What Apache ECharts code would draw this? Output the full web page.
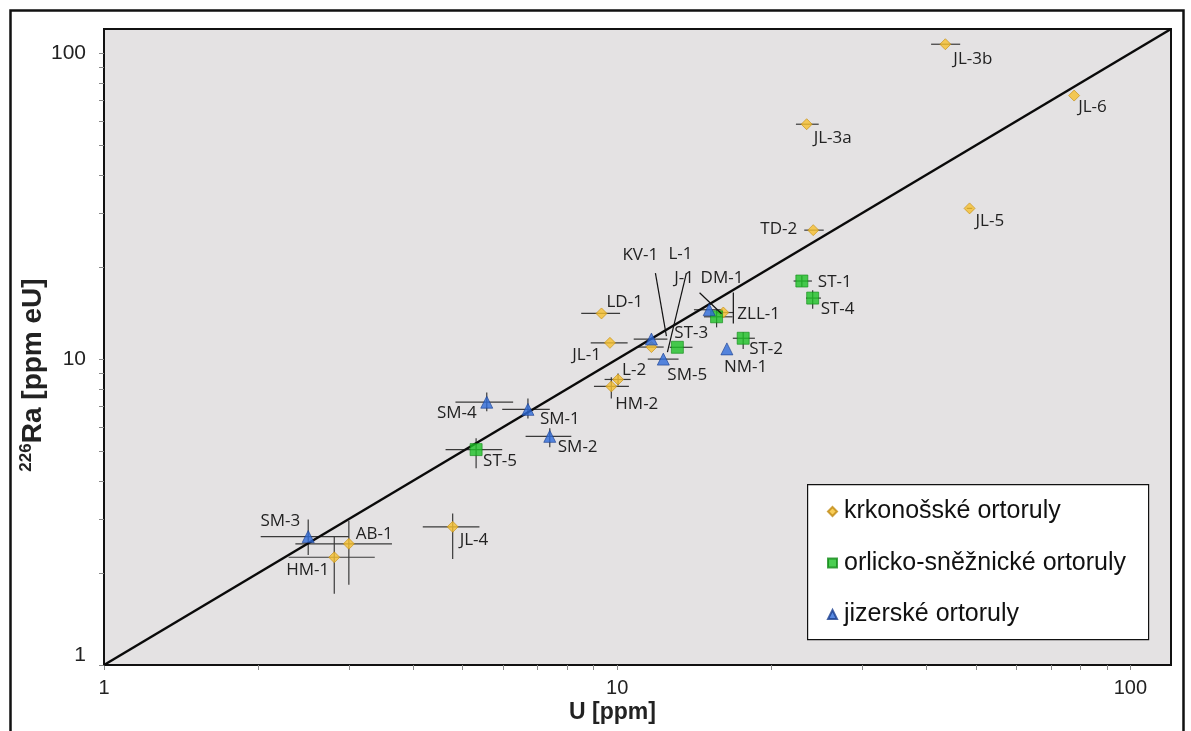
<!DOCTYPE html>
<html>
<head>
<meta charset="utf-8">
<title>U vs 226Ra</title>
<script src="https://cdn.jsdelivr.net/npm/echarts@6.0.0/dist/echarts.min.js"></script>
<style>
  html, body { margin: 0; padding: 0; background: #fff; }
  #chart { width: 1191px; height: 731px; }
</style>
</head>
<body>
<div id="chart"></div>
<script>
// --- data (U [ppm], 226Ra [ppm eU], error bar ends) ---
// krkonošské ortoruly
const krkNames = ['JL-3b', 'JL-6', 'JL-3a', 'JL-5', 'TD-2', 'LD-1', 'JL-1', 'L-1', 'ZLL-1', 'L-2', 'HM-2', 'AB-1', 'HM-1', 'JL-4'];
const krkU     = [43.6, 77.7, 23.4, 48.6, 24.1, 9.32, 9.68, 11.66, 16.1, 10.04, 9.74, 3.0, 2.81, 4.78];
const krkRa    = [107, 72.7, 58.6, 31.1, 26.4, 14.1, 11.3, 10.95, 14.2, 8.58, 8.14, 2.49, 2.25, 2.83];
const krkULo   = [40.9, null, 22.3, 48.0, 23.15, 8.51, 8.88, 10.92, 15.57, 9.45, 9.01, 2.36, 2.29, 4.18];
const krkUHi   = [46.6, null, 24.7, 49.2, 25.26, 10.13, 10.48, 12.32, 16.88, 10.62, 10.54, 3.64, 3.37, 5.39];
const krkRaLo  = [null, null, null, null, null, null, null, null, null, 8.20, 7.43, 1.83, 1.71, 2.22];
const krkRaHi  = [null, null, null, null, null, null, null, null, null, 8.97, 8.72, 2.96, 2.64, 3.13];

// orlicko-sněžnické ortoruly
const orlNames = ['ST-1', 'ST-4', 'DM-1', 'ST-3', 'ST-2', 'ST-5'];
const orlU     = [22.9, 24.04, 15.62, 13.1, 17.6, 5.31];
const orlRa    = [18.0, 15.83, 13.75, 10.93, 11.7, 5.06];
const orlULo   = [22.07, 23.33, 14.76, 12.66, 16.8, 4.63];
const orlUHi   = [23.96, 24.95, 16.78, 14.02, 18.55, 5.97];
const orlRaLo  = [17.23, 14.6, 12.7, null, 10.8, 4.40];
const orlRaHi  = [18.7, 16.8, 14.5, null, 12.23, 5.51];

// jizerské ortoruly
const jizNames = ['KV-1', 'J-1', 'SM-5', 'NM-1', 'SM-4', 'SM-1', 'SM-2', 'SM-3'];
const jizU     = [11.66, 15.11, 12.3, 16.36, 5.57, 6.70, 7.39, 2.50];
const jizRa    = [11.63, 14.5, 10.0, 10.8, 7.23, 6.85, 5.59, 2.63];
const jizULo   = [10.77, 14.11, 11.47, null, 4.84, 5.97, 6.63, 2.02];
const jizUHi   = [12.53, 16.05, 13.17, null, 6.27, 7.39, 8.14, 3.00];
const jizRaLo  = [null, null, null, null, 6.76, 6.40, 5.15, 2.29];
const jizRaHi  = [null, null, null, null, 7.78, 7.43, 5.94, 2.99];

const groupNames = ['krkonošské ortoruly', 'orlicko-sněžnické ortoruly', 'jizerské ortoruly'];
const refLine = [[1, 1], [120, 120]];
const axisMin = 1, axisMax = 120;
const tickValues = [1, 2, 3, 4, 5, 6, 7, 8, 9, 10, 20, 30, 40, 50, 60, 70, 80, 90, 100];
const labelValues = [1, 10, 100];

// label placement in pixels relative to the marker: [dx, dy, align]
const labelPos = {
  'JL-3b': [8, 15], 'JL-6': [4, 12], 'JL-3a': [7, 14], 'JL-5': [6, 13],
  'TD-2': [-16, -1, 'right'], 'LD-1': [5, -11], 'JL-1': [-9, 12, 'right'],
  'L-1': [17, -93], 'ZLL-1': [14, 2], 'L-2': [4, -9], 'HM-2': [4, 18],
  'AB-1': [7, -10], 'HM-1': [-5, 13, 'right'], 'JL-4': [7, 13],
  'ST-1': [16, 1], 'ST-4': [8, 11], 'DM-1': [-16, -39], 'ST-3': [-3, -14],
  'ST-2': [6, 11], 'ST-5': [7, 12],
  'KV-1': [-29, -84], 'J-1': [-35, -32], 'SM-5': [4, 16], 'NM-1': [-3, 18],
  'SM-4': [-10, 11, 'right'], 'SM-1': [12, 10], 'SM-2': [8, 11], 'SM-3': [-8, -15, 'right']
};
// leader lines, pixels relative to the marker: [x1, y1, x2, y2]
const leaders = {
  'KV-1': [4, -66, 15, -3],
  'L-1': [35, -74, 16, 5],
  'DM-1': [-17, -24, 5, -3],
  'ZLL-1': [10, -20, 10, 11]
};

const krkColor = '#F6C02E', orlColor = '#1DC226', jizColor = '#2E6CDA';
const axisFont = '"Liberation Sans", Arial, sans-serif';

function rows(u, ra, uLo, uHi, raLo, raHi) {
  return u.map((v, i) => [v, ra[i], uLo[i], uHi[i], raLo[i], raHi[i]]);
}
const allRows = [].concat(
  rows(krkU, krkRa, krkULo, krkUHi, krkRaLo, krkRaHi),
  rows(orlU, orlRa, orlULo, orlUHi, orlRaLo, orlRaHi),
  rows(jizU, jizRa, jizULo, jizUHi, jizRaLo, jizRaHi)
);
const allNames = [].concat(krkNames, orlNames, jizNames);

const chart = echarts.init(document.getElementById('chart'));

function errorBars(params, api) {
  const r = allRows[params.dataIndex];
  const p = api.coord([r[0], r[1]]);
  const style = { stroke: '#3a3a3a', lineWidth: 1.2 };
  const children = [];
  if (r[2] != null) {
    const a = api.coord([r[2], r[1]]), b = api.coord([r[3], r[1]]);
    children.push({ type: 'line', shape: { x1: a[0], y1: p[1], x2: b[0], y2: p[1] }, style: style });
  }
  if (r[4] != null) {
    const a = api.coord([r[0], r[4]]), b = api.coord([r[0], r[5]]);
    children.push({ type: 'line', shape: { x1: p[0], y1: a[1], x2: p[0], y2: b[1] }, style: style });
  }
  return { type: 'group', children: children };
}

function pointLabels(params, api) {
  const name = allNames[params.dataIndex];
  const p = api.coord([api.value(0), api.value(1)]);
  const o = labelPos[name] || [6, 12];
  const children = [{
    type: 'text',
    style: {
      text: name, x: p[0] + o[0], y: p[1] + o[1],
      align: o[2] || 'left', verticalAlign: 'middle',
      font: '17px "Open Sans", "Noto Sans", sans-serif', fill: '#222'
    }
  }];
  const l = leaders[name];
  if (l) {
    children.push({
      type: 'line',
      shape: { x1: p[0] + l[0], y1: p[1] + l[1], x2: p[0] + l[2], y2: p[1] + l[3] },
      style: { stroke: '#111', lineWidth: 1.2 }
    });
  }
  return { type: 'group', children: children };
}

const axisCommon = {
  type: 'log',
  logBase: 10,
  min: axisMin,
  max: axisMax,
  axisLine: { show: true, lineStyle: { color: '#111', width: 2 } },
  axisTick: { show: true, inside: false, length: 5, customValues: tickValues, lineStyle: { color: '#8a8a8a', width: 1 } },
  minorTick: { show: false },
  splitLine: { show: false },
  nameLocation: 'middle',
  nameMoveOverlap: false
};

chart.setOption({
  animation: false,
  backgroundColor: '#fff',
  grid: {
    left: 104, right: 20, top: 29, bottom: 66,
    show: true, backgroundColor: '#e4e2e3', borderColor: '#111', borderWidth: 2,
    containLabel: false, outerBoundsMode: 'none'
  },
  xAxis: Object.assign({}, axisCommon, {
    axisLabel: {
      customValues: labelValues, fontSize: 20, color: '#222', margin: 13, fontFamily: axisFont
    },
    name: 'U [ppm]',
    nameGap: 36,
    nameTextStyle: {
      fontSize: 23, fontWeight: 'bold', color: '#222',
      fontFamily: axisFont, padding: [0, 50, 0, 0]
    }
  }),
  yAxis: Object.assign({}, axisCommon, {
    axisLabel: {
      customValues: labelValues, fontSize: 21, color: '#222', margin: 18, fontFamily: axisFont,
      formatter: function (v) { return v === 1 ? '{lo|1}' : String(v); },
      rich: { lo: { fontSize: 21, color: '#222', padding: [0, 0, 20, 0], fontFamily: axisFont } }
    },
    name: '{sup|226}{b|Ra [ppm eU]}',
    nameGap: 56,
    nameRotate: 90,
    nameTextStyle: {
      padding: [0, 56, 0, 0],
      rich: {
        sup: { fontSize: 17, fontWeight: 'bold', color: '#222', verticalAlign: 'top', fontFamily: axisFont },
        b: { fontSize: 28, fontWeight: 'bold', color: '#222', lineHeight: 30, fontFamily: axisFont }
      }
    }
  }),
  legend: {
    data: groupNames,
    orient: 'vertical',
    left: 827,
    top: 499,
    padding: 0,
    itemWidth: 9,
    itemHeight: 9,
    itemGap: 26.5,
    selectedMode: false,
    textStyle: { fontSize: 25, color: '#111', fontFamily: axisFont, padding: [0, 0, 0, 2] },
    z: 6
  },
  graphic: [
    { type: 'rect', left: 807, top: 484, z: 5, shape: { width: 341, height: 155 }, style: { fill: '#fff', stroke: '#111', lineWidth: 1.2 } },
    { type: 'rect', left: 8, top: 8, z: 0, silent: true, shape: { width: 1173, height: 780 }, style: { fill: 'none', stroke: '#111', lineWidth: 2.5 } }
  ],
  series: [
    {
      type: 'custom', name: 'errors', renderItem: errorBars, z: 1, silent: true,
      data: allRows.map(r => [r[0], r[1]])
    },
    {
      type: 'line', name: '1:1', data: refLine, symbol: 'none', silent: true, z: 2,
      lineStyle: { color: '#0a0a0a', width: 2.5 }
    },
    {
      type: 'scatter', name: groupNames[0], symbol: 'diamond', symbolSize: 11, z: 3,
      itemStyle: { color: krkColor, borderColor: '#c18a12', borderWidth: 0.8 },
      data: krkU.map((v, i) => [v, krkRa[i]])
    },
    {
      type: 'scatter', name: groupNames[1], symbol: 'rect', symbolSize: 12, z: 3,
      itemStyle: { color: orlColor, borderColor: '#128a18', borderWidth: 0.8 },
      data: orlU.map((v, i) => [v, orlRa[i]])
    },
    {
      type: 'scatter', name: groupNames[2], symbol: 'triangle', symbolSize: 12, z: 3,
      itemStyle: { color: jizColor, borderColor: '#1a3f8f', borderWidth: 0.8 },
      data: jizU.map((v, i) => [v, jizRa[i]])
    },
    {
      type: 'custom', name: 'labels', renderItem: pointLabels, z: 4, silent: true,
      data: allRows.map(r => [r[0], r[1]])
    }
  ]
});
</script>
</body>
</html>
